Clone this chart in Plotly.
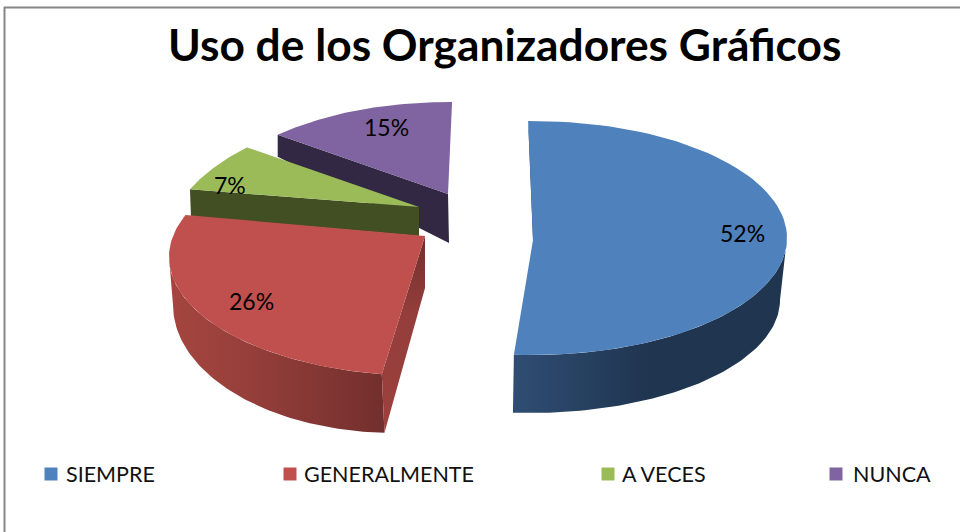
import numpy as np
import plotly.graph_objects as go

categories = ["SIEMPRE", "GENERALMENTE", "A VECES", "NUNCA"]
values = [52, 26, 7, 15]
title = "Uso de los Organizadores Gráficos"
colors = ["#4f81bd", "#c0504d", "#9bbb59", "#8064a2"]

# Projection settings of each exploded slice (canvas-like units on hidden axes)
proj = [
    dict(apex=(533, 240), c=(533, 238), rx=254, ry=117, rot=-0.5, stretch=1.0065),
    dict(apex=(425, 236), c=(425, 257), rx=256, ry=119, rot=5.5, stretch=1.0),
    dict(apex=(419, 207), c=(419, 249), rx=254, ry=138, rot=5.2, stretch=0.677),
    dict(apex=(448, 194), c=(448, 229), rx=254, ry=127, rot=0.7, stretch=1.01),
]
label_pos = [(742, 233), (251, 301), (230, 185), (386, 127)]
legend_x = [51, 290, 608, 836]
legend_text_x = [64, 302, 620, 851]
LEG_Y = 474


def warp(t):
    """Perspective foreshortening of the pie's angles."""
    return t - 12 * np.sin(np.radians(2 * t))


def angles(i):
    total = sum(values)
    a0 = sum(values[:i]) / total * 360
    a1 = sum(values[: i + 1]) / total * 360
    g0, g1 = warp(a0), warp(a1)
    mid = (g0 + g1) / 2
    s, r = proj[i]["stretch"], proj[i]["rot"]
    return mid + s * (g0 - mid) + r, mid + s * (g1 - mid) + r


def arc(c, rx, ry, t0, t1, n=80):
    t = np.radians(np.linspace(t0, t1, n))
    return c[0] + rx * np.sin(t), c[1] - ry * np.cos(t)


def poly(x, y, color=None, grad=None):
    kw = dict(fillgradient=grad) if grad else dict(fillcolor=color)
    return go.Scatter(
        x=list(x), y=list(y), mode="lines", fill="toself",
        line=dict(width=0), hoverinfo="skip", showlegend=False, **kw
    )


def concat(*parts):
    return np.concatenate(parts)


fig = go.Figure()

# purple slice
p = proj[3]
t0, t1 = angles(3)
ax, ay = arc(p["c"], p["rx"], p["ry"], t0, t1)
fig.add_trace(poly([ax[0], p["apex"][0], p["apex"][0] + 1, ax[0]],
                   [ay[0], p["apex"][1], p["apex"][1] + 49, ay[0] + 22], "#322843"))
fig.add_trace(poly(concat(ax, [p["apex"][0]]), concat(ay, [p["apex"][1]]), colors[3]))

# green slice
p = proj[2]
t0, t1 = angles(2)
ax, ay = arc(p["c"], p["rx"], p["ry"], t0, t1)
fig.add_trace(poly([ax[0], p["apex"][0], p["apex"][0], ax[0] + 1],
                   [ay[0], p["apex"][1], p["apex"][1] + 29, ay[0] + 27], "#424f22"))
fig.add_trace(poly(concat(ax, [p["apex"][0]]), concat(ay, [p["apex"][1]]), colors[2]))

# red slice
p = proj[1]
t0, t1 = angles(1)
ax, ay = arc(p["c"], p["rx"], p["ry"], t0, t1)
wx, wy = arc(p["c"], p["rx"], p["ry"], t0, 270)
lx, ly = arc((395, 305), 222, 128, t0 - 7, 270)
fig.add_trace(poly(concat(wx, lx[::-1]), concat(wy, ly[::-1]),
                   grad=dict(type="horizontal",
                             colorscale=[[0, "#a5453f"], [0.35, "#973f3b"], [1, "#722f2d"]])))
fig.add_trace(poly([ax[0], p["apex"][0], p["apex"][0], lx[0]],
                   [ay[0], p["apex"][1], p["apex"][1] + 52, ly[0]],
                   grad=dict(type="vertical",
                             colorscale=[[0, "#9c403d"], [0.6, "#943e3b"], [1, "#722f2d"]])))
fig.add_trace(poly(concat(ax, [p["apex"][0]]), concat(ay, [p["apex"][1]]), colors[1]))

# blue slice
p = proj[0]
t0, t1 = angles(0)
ax, ay = arc(p["c"], p["rx"], p["ry"], t0, t1)
wx, wy = arc(p["c"], p["rx"], p["ry"], 90, t1)
lx, ly = arc((530, 300), 250, 113, 90, t1 - 0.4)
fig.add_trace(poly(concat(wx, lx[::-1]), concat(wy, ly[::-1]),
                   grad=dict(type="horizontal",
                             colorscale=[[0, "#2f4d73"], [0.5, "#1f3550"], [1, "#1f3550"]])))
fig.add_trace(poly([ax[0], p["apex"][0] + 3, p["apex"][0]],
                   [ay[0], p["apex"][1] - 20, p["apex"][1]], "#1f3550"))
fig.add_trace(poly(concat(ax, [p["apex"][0]]), concat(ay, [p["apex"][1]]), colors[0]))

# legend keys
for i, name in enumerate(categories):
    fig.add_trace(go.Scatter(
        x=[legend_x[i]], y=[LEG_Y], mode="markers", name=name, showlegend=False,
        hoverinfo="skip",
        marker=dict(symbol="square", size=13, color=colors[i], line=dict(width=0)),
    ))

annots = []
total = sum(values)
for v, (x, y) in zip(values, label_pos):
    annots.append(dict(x=x, y=y, xref="x", yref="y", text=f"{round(v / total * 100)}%",
                       showarrow=False, font=dict(family="Lato", size=23, color="black")))
for name, x in zip(categories, legend_text_x):
    annots.append(dict(x=x, y=LEG_Y, xref="x", yref="y", text=name, xanchor="left",
                       showarrow=False, font=dict(family="Lato", size=21.5, color="#111111")))
annots.append(dict(x=504, y=43, xref="x", yref="y", text=f"<b>{title}</b>", showarrow=False,
                   font=dict(family="Lato", size=44.3, color="black")))

fig.update_layout(
    width=960, height=532, autosize=False,
    margin=dict(l=0, r=0, t=0, b=0),
    paper_bgcolor="white", plot_bgcolor="white",
    xaxis=dict(range=[0, 960], visible=False, fixedrange=True),
    yaxis=dict(range=[532, 0], visible=False, fixedrange=True),
    annotations=annots,
    shapes=[
        dict(type="line", xref="x", yref="y", x0=4.5, x1=4.5, y0=7, y1=532,
             line=dict(color="#868686", width=2)),
        dict(type="line", xref="x", yref="y", x0=4, x1=960, y0=7.5, y1=7.5,
             line=dict(color="#868686", width=2)),
    ],
)
fig.write_html("out.html", config=dict(displayModeBar=False),
               post_script="document.body.style.margin='0';document.body.style.overflow='hidden';")
